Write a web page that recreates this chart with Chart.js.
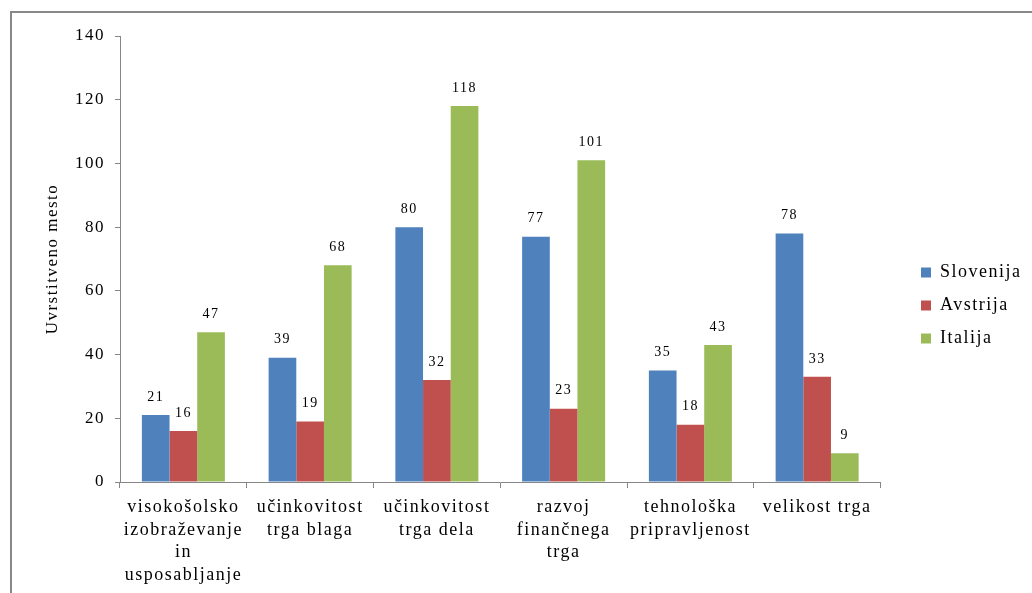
<!DOCTYPE html>
<html>
<head>
<meta charset="utf-8">
<script src="https://cdn.jsdelivr.net/npm/chart.js@4/dist/chart.umd.min.js"></script>
<style>
  body { margin: 0; background: #fff; }
  #frame {
    position: absolute; left: 10px; top: 11px;
    width: 1022px; height: 582px;
    border-top: 2px solid #888; border-left: 2px solid #888;
    overflow: hidden;
  }
  #myChart { display: block; }
</style>
</head>
<body>
<div id="frame"><canvas id="myChart" width="1020" height="580"></canvas></div>
<script>
// chart data
var categories = [
  ['visokošolsko', 'izobraževanje', 'in', 'usposabljanje'],
  ['učinkovitost', 'trga blaga'],
  ['učinkovitost', 'trga dela'],
  ['razvoj', 'finančnega', 'trga'],
  ['tehnološka', 'pripravljenost'],
  ['velikost trga']
];
var slovenija = [21, 39, 80, 77, 35, 78];
var avstrija = [16, 19, 32, 23, 18, 33];
var italija = [47, 68, 118, 101, 43, 9];
var yTicks = [0, 20, 40, 60, 80, 100, 120, 140];

var serif = "'Liberation Serif', 'Times New Roman', serif";
var axisColor = '#868686';

// the original text is set wide, so space the letters a bit
var spacing = {
  id: 'spacing',
  beforeUpdate: function(chart) { chart.ctx.letterSpacing = '1.5px'; },
  beforeDraw: function(chart) { chart.ctx.letterSpacing = '1.5px'; }
};

// value labels above bars
var valueLabels = {
  id: 'valueLabels',
  afterDatasetsDraw: function(chart) {
    var c = chart.ctx;
    c.save();
    c.font = '14px ' + serif;
    c.fillStyle = '#000';
    c.textAlign = 'center';
    c.textBaseline = 'bottom';
    chart.data.datasets.forEach(function(ds, i) {
      chart.getDatasetMeta(i).data.forEach(function(bar, j) {
        c.fillText(ds.data[j], bar.x, bar.y - 11);
      });
    });
    c.restore();
  }
};

// move legend to where the original sits
var legendShift = {
  id: 'legendShift',
  afterLayout: function(chart) {
    var lg = chart.legend;
    var dx = 894 - lg.left;
    lg.left += dx; lg.right += dx;
    lg.top -= 9; lg.bottom -= 9;
  }
};

var ctx = document.getElementById('myChart').getContext('2d');
var myChart = new Chart(ctx, {
  type: 'bar',
  data: {
    labels: categories,
    datasets: [
      { label: 'Slovenija', data: slovenija, backgroundColor: '#4F81BD' },
      { label: 'Avstrija', data: avstrija, backgroundColor: '#C0504D' },
      { label: 'Italija', data: italija, backgroundColor: '#9BBB59' }
    ]
  },
  options: {
    responsive: false,
    animation: false,
    categoryPercentage: 0.655,
    barPercentage: 1,
    layout: { padding: { top: 23, right: 26, bottom: 0, left: 0 } },
    plugins: {
      tooltip: { enabled: false },
      legend: {
        position: 'right',
        labels: {
          boxWidth: 10, boxHeight: 10, padding: 15,
          color: '#000',
          font: { family: serif, size: 18 }
        }
      }
    },
    scales: {
      x: {
        grid: { drawOnChartArea: false, drawTicks: true, tickLength: 6, color: axisColor },
        border: { color: axisColor },
        ticks: {
          color: '#000', padding: 8, maxRotation: 0, autoSkip: false,
          font: { family: serif, size: 18, lineHeight: 1.26 }
        },
        afterFit: function(scale) { scale.height = 111; }
      },
      y: {
        min: 0, max: 140,
        afterBuildTicks: function(scale) {
          scale.ticks = yTicks.map(function(v) { return { value: v }; });
        },
        grid: { drawOnChartArea: false, drawTicks: true, tickLength: 5, color: axisColor },
        border: { color: axisColor },
        ticks: { color: '#000', padding: 10, font: { family: serif, size: 17 } },
        title: {
          display: true, text: 'Uvrstitveno mesto', color: '#000',
          font: { family: serif, size: 17 }, padding: { top: 30, bottom: 0 }
        },
        afterFit: function(scale) { scale.width = 108; }
      }
    }
  },
  plugins: [spacing, valueLabels, legendShift]
});
</script>
</body>
</html>
